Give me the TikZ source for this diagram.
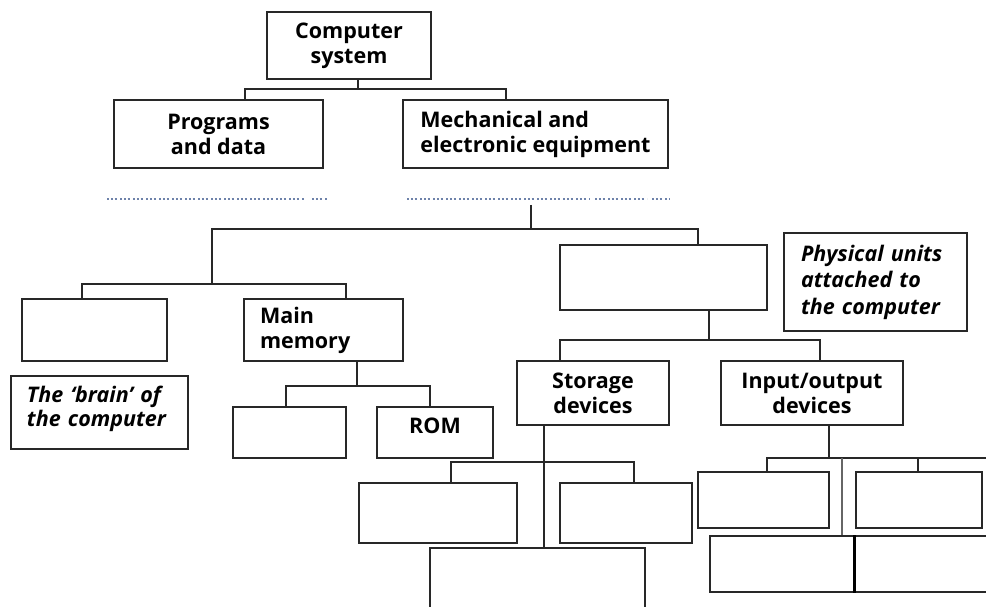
\documentclass[tikz,border=0pt]{standalone}
\usepackage{fontspec}
\setmainfont{Open Sans}
\usetikzlibrary{calc}
\definecolor{lineC}{RGB}{40,40,40}
\definecolor{dotC}{RGB}{110,130,170}
\begin{document}
\begin{tikzpicture}[x=1pt,y=-1pt,
  box/.style={draw=lineC, line width=1.8pt, inner sep=0pt, align=center,
    font=\fontsize{21.5}{25}\selectfont\bfseries, text=black},
  lbox/.style={box, align=left},
  conn/.style={draw=lineC, line width=1.8pt},
  dotline/.style={draw=dotC, line width=2.6pt, dash pattern=on 2pt off 1.8pt on 2pt off 1.8pt on 2pt off 3.4pt}]
\clip (0,0) rectangle (986,607);
\fill[white] (0,0) rectangle (986,607);
% boxes
\node[box, minimum width=164pt, minimum height=67pt] (cs) at (349,45.5) {Computer\\system};
\node[box, minimum width=209pt, minimum height=68pt] (prog) at (218.5,134) {Programs\\and data};
\node[box, minimum width=265pt, minimum height=68pt, align=left] (mech) at (535.5,134) {Mechanical and\\electronic equipment};
\node[box, minimum width=145pt, minimum height=62pt] (cpu) at (94.5,330) {};
\node[lbox, minimum width=177pt, minimum height=73pt, text width=145pt, font=\fontsize{21.5}{24}\selectfont\bfseries\itshape] (brain) at (99.5,412.5) {The ‘brain’ of\\the computer\rule[-13pt]{0pt}{0pt}};
\node[lbox, minimum width=159pt, minimum height=62pt, text width=127pt] (mm) at (323.5,330) {Main\\memory};
\node[box, minimum width=113pt, minimum height=51pt] (ram) at (289.5,432.5) {};
\node[box, minimum width=116pt, minimum height=51pt, text depth=14pt] (rom) at (435,432.5) {ROM};
\node[box, minimum width=207pt, minimum height=65pt] (per) at (663.5,277.5) {};
\node[lbox, minimum width=183pt, minimum height=98pt, text width=149pt, font=\fontsize{21.5}{26.5}\selectfont\bfseries\itshape] (phys) at (875.5,282) {Physical units\\attached to\\the computer};
\node[box, minimum width=152pt, minimum height=64pt] (st) at (593,393) {Storage\\devices};
\node[box, minimum width=182pt, minimum height=64pt] (io) at (812,393) {Input/output\\devices};
\node[box, minimum width=158pt, minimum height=60pt] (s1) at (438,513) {};
\node[box, minimum width=132pt, minimum height=60pt] (s2) at (626,513) {};
\node[box, minimum width=215pt, minimum height=77pt] (s3) at (537.5,586.5) {};
\node[box, minimum width=131pt, minimum height=56pt] (io1) at (763.5,500) {};
\node[box, minimum width=126pt, minimum height=56pt] (io2) at (919,500) {};
\node[box, minimum width=144pt, minimum height=56pt] (io3) at (782,564) {};
\node[box, minimum width=156pt, minimum height=56pt] (io4) at (932,564) {};
\draw[draw=black, line width=3pt] (io3.north east) -- (io3.south east);
% dotted blanks
\coordinate (dl1) at (107,199); \coordinate (dl2) at (305,199);
\coordinate (dl3) at (312,199); \coordinate (dl4) at (328,199);
\coordinate (dr1) at (407,199); \coordinate (dr2) at (590,199);
\coordinate (dr3) at (595,199); \coordinate (dr4) at (647,199);
\coordinate (dr5) at (652,199); \coordinate (dr6) at (669,199);
\path[dotline] (dl1) -- (dl2) (dl3) -- (dl4);
\path[dotline] (dr1) -- (dr2) (dr3) -- (dr4) (dr5) -- (dr6);
% connectors
\path[conn] ([xshift=9pt]cs.south) -- ++(0,9) coordinate (j1);
\path[conn] (j1) -| ([xshift=26.5pt]prog.north);
\path[conn] (j1) -| ([xshift=-29.5pt]mech.north);
\coordinate (d2) at (531,205);
\coordinate (j3) at (212,284);
\path[conn] (d2) -- ++(0,24) coordinate (j2);
\path[conn] (j2) -| (j3);
\path[conn] (j2) -| ([xshift=34.5pt]per.north);
\path[conn] (j3) -| ([xshift=-12.5pt]cpu.north);
\path[conn] (j3) -| ([xshift=22.5pt]mm.north);
\path[conn] ([xshift=33.5pt]mm.south) -- ++(0,24) coordinate (j4);
\path[conn] (j4) -| ([xshift=-3.5pt]ram.north);
\path[conn] (j4) -| ([xshift=-5pt]rom.north);
\path[conn] ([xshift=45.5pt]per.south) -- ++(0,29) coordinate (j5);
\path[conn] (j5) -| ([xshift=-33pt]st.north);
\path[conn] (j5) -| ([xshift=8pt]io.north);
\coordinate (j6) at (544,462);
\path[conn] ([xshift=-49pt]st.south) -- ([xshift=6.5pt]s3.north);
\path[conn] (j6) -| ([xshift=13pt]s1.north);
\path[conn] (j6) -| ([xshift=8pt]s2.north);
\path[conn] ([xshift=17pt]io.south) -- ++(0,33) coordinate (j7);
\coordinate (ioR) at (995,458);
\path[conn] ([xshift=3.5pt]io1.north) |- (ioR);
\path[conn] (j7 -| io2.north) ++(-1,0) -- ([xshift=-1pt]io2.north);
\coordinate (j8) at (842,458);
\path[conn, draw=black!60, line width=1.5pt] (j8) -- (j8 |- io3.north);
\end{tikzpicture}
\end{document}
